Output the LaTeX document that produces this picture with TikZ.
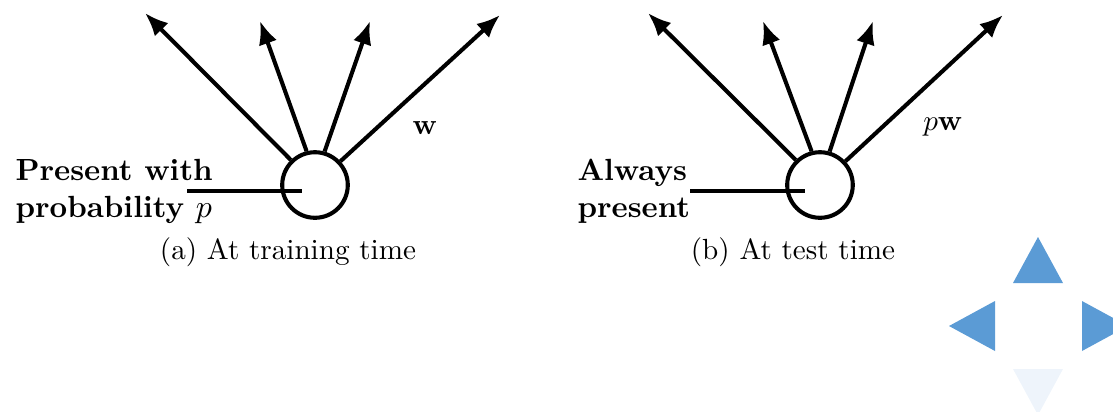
\documentclass[tikz,border=0pt]{standalone}
\usepackage{amsmath}
\usepackage{amssymb}
\usetikzlibrary{arrows.meta}

\definecolor{navblue}{HTML}{5B9BD5}
\definecolor{navpale}{HTML}{EEF4FB}

\begin{document}
\begin{tikzpicture}[x=0.343pt, y=-0.343pt,
  unit/.style={circle, draw, line width=1.4pt, minimum size=22.5pt, inner sep=0pt},
  weight/.style={line width=1.4pt, -{Latex[length=8pt,width=6.5pt]}},
  inputline/.style={line width=1.4pt},
  lbl/.style={font=\fontsize{10.5}{12.7}\selectfont\bfseries, align=left, inner sep=0pt},
  subcap/.style={inner sep=0pt}]
\useasboundingbox (0,0) rectangle (1113,411);

% (a) At training time
\node[unit] (na) at (315,185) {};
\coordinate (ina) at (187,191);
\coordinate (enda) at (302,191);
\draw[inputline] (ina) -- (enda);
\coordinate (oa1) at (145,13);
\coordinate (oa2) at (260,21);
\coordinate (oa3) at (370,21);
\coordinate (oa4) at (500,15);
\draw[weight] (na.134) -- (oa1);
\draw[weight] (na.104) -- (oa2);
\draw[weight] (na.74) -- (oa3);
\draw[weight] (na.43) -- (oa4);
\node (wa) at (425,128) {$\mathbf{w}$};
\node[lbl, anchor=west] (pa) at (15,191) {Present with\\probability $p$};
\node[subcap] (capa) at (288,252) {(a) At training time};

% (b) At test time
\node[unit] (nb) at (820,185) {};
\coordinate (inb) at (690,191);
\coordinate (endb) at (805,191);
\draw[inputline] (inb) -- (endb);
\coordinate (ob1) at (648,13);
\coordinate (ob2) at (763,21);
\coordinate (ob3) at (873,21);
\coordinate (ob4) at (1003,15);
\draw[weight] (nb.134) -- (ob1);
\draw[weight] (nb.104) -- (ob2);
\draw[weight] (nb.74) -- (ob3);
\draw[weight] (nb.43) -- (ob4);
\node (wb) at (943,127) {$p\mathbf{w}$};
\node[lbl, anchor=west] (pb) at (577,191) {Always\\present};
\node[subcap] (capb) at (793,252) {(b) At test time};

% Navigation arrows
\fill[navblue] (1038,237) -- (1063,283) -- (1013,283) -- cycle;
\fill[navblue] (949,326) -- (995,301) -- (995,351) -- cycle;
\fill[navblue] (1082,301) -- (1128,326) -- (1082,351) -- cycle;
\fill[navpale] (1013,369) -- (1063,369) -- (1038,415) -- cycle;
\end{tikzpicture}
\end{document}
